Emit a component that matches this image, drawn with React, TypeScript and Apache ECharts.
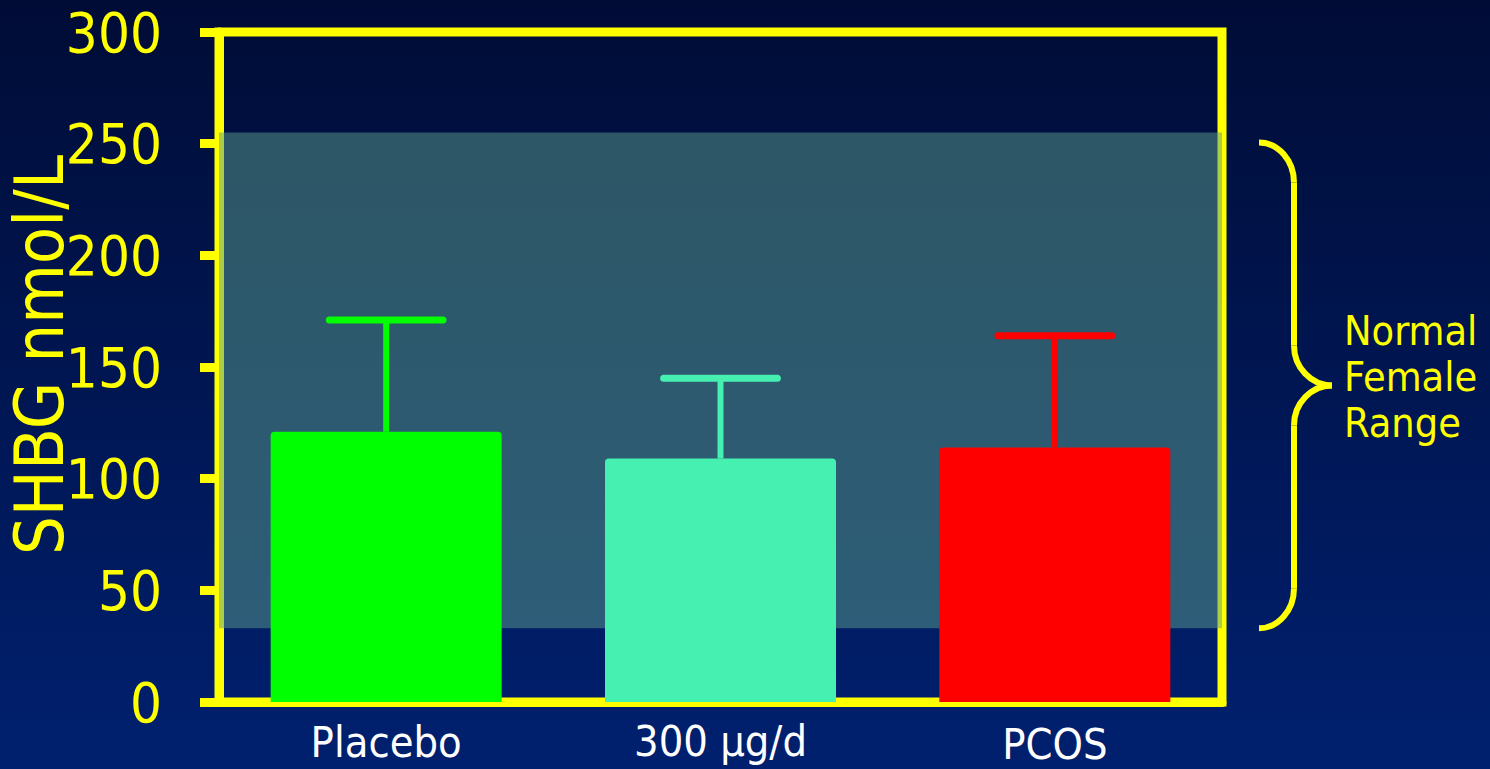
import React, { useEffect, useRef } from "react";
import * as echarts from "echarts";

// SHBG levels by group
const categories = ["Placebo", "300 µg/d", "PCOS"];
const means = [121, 109, 114];
const upperErrors = [171, 145, 164];
const barColors = ["#00ff00", "#45f0b0", "#ff0000"];

// normal female reference range, nmol/L
const normalRange = [33, 255];
const rangeLabel = "Normal\nFemale\nRange";

const yTicks = { min: 0, max: 300, interval: 50 };

const YELLOW = "#ffff00";
const FONT = "'Liberation Sans Narrow', 'DejaVu Sans Condensed', 'Liberation Sans', Arial, sans-serif";

export default function App() {
  const ref = useRef<HTMLDivElement>(null);

  useEffect(() => {
    if (!ref.current) return;
    const chart = echarts.init(ref.current, undefined, { renderer: "svg" });

    chart.setOption({
      animation: false,
      backgroundColor: {
        type: "linear",
        x: 0,
        y: 0,
        x2: 0,
        y2: 1,
        colorStops: [
          { offset: 0, color: "#000c36" },
          { offset: 1, color: "#00206f" },
        ],
      },
      grid: {
        left: 219,
        top: 32,
        width: 1003,
        height: 670,
        containLabel: false,
        outerBoundsMode: "none",
        show: true,
        borderColor: YELLOW,
        borderWidth: 9,
        backgroundColor: "transparent",
      },
      xAxis: {
        type: "category",
        data: categories,
        axisLine: { show: true, lineStyle: { color: YELLOW, width: 9 } },
        axisTick: { show: false },
        axisLabel: {
          interval: 0,
          hideOverlap: false,
          margin: 17,
          fontFamily: FONT,
          fontSize: 43,
          color: "#ffffff",
          formatter: (v: string, i: number) => `{c${i}|${v}}`,
          rich: {
            c0: { fontFamily: FONT, fontSize: 43, lineHeight: 43, color: "#ffffff", padding: [3, 0, 0, 0] },
            c1: { fontFamily: FONT, fontSize: 43, lineHeight: 43, color: "#ffffff", padding: [0, 0, 0, 0] },
            c2: { fontFamily: FONT, fontSize: 43, lineHeight: 43, color: "#ffffff", padding: [6, 0, 0, 0] },
          },
        },
      },
      yAxis: {
        type: "value",
        min: yTicks.min,
        max: yTicks.max,
        interval: yTicks.interval,
        name: "SHBG nmol/L",
        nameLocation: "middle",
        nameGap: 146,
        nameMoveOverlap: false,
        nameTextStyle: {
          color: YELLOW,
          fontFamily: FONT,
          fontSize: 68,
          padding: [0, 0, 0, 24],
        },
        axisLine: { show: true, lineStyle: { color: YELLOW, width: 9 } },
        axisTick: { show: true, length: 19, lineStyle: { color: YELLOW, width: 9 } },
        axisLabel: { margin: 57, color: YELLOW, fontFamily: FONT, fontSize: 56 },
        splitLine: { show: false },
      },
      series: [
        {
          type: "bar",
          barWidth: 231,
          data: means.map((v, i) => ({
            value: v,
            itemStyle: { color: barColors[i], borderRadius: [4, 4, 0, 0] },
          })),
          markArea: {
            silent: true,
            itemStyle: { color: "rgba(90,158,140,0.5)" },
            data: [[{ yAxis: normalRange[0] }, { yAxis: normalRange[1] }]],
          },
          z: 2,
        },
        {
          type: "custom",
          z: 3,
          data: categories.map((_, i) => [i, means[i], upperErrors[i]]),
          renderItem: (params: any, api: any) => {
            const idx = api.value(0);
            const base = api.coord([idx, api.value(1)]);
            const top = api.coord([idx, api.value(2)]);
            const half = api.size([1, 0])[0] * 0.17;
            const color = barColors[params.dataIndex];
            return {
              type: "group",
              children: [
                {
                  type: "line",
                  shape: { x1: base[0], y1: base[1], x2: top[0], y2: top[1] },
                  style: { stroke: color, lineWidth: 6 },
                },
                {
                  type: "line",
                  shape: { x1: top[0] - half, y1: top[1], x2: top[0] + half, y2: top[1] },
                  style: { stroke: color, lineWidth: 7, lineCap: "round" },
                },
              ],
            };
          },
        },
      ],
    });

    // curly brace beside the plot marking the normal range
    const gridRight = 219 + 1003;
    const yHigh = chart.convertToPixel({ yAxisIndex: 0 }, normalRange[1]) + 10;
    const yLow = chart.convertToPixel({ yAxisIndex: 0 }, normalRange[0]);
    const yMid = (yHigh + yLow) / 2;
    const xEnd = gridRight + 37;
    const xStem = gridRight + 72;
    const xTip = gridRight + 110;
    const r = 40;
    const k = 0.55;
    const braceStyle = { stroke: YELLOW, lineWidth: 6, fill: null };

    chart.setOption({
      graphic: [
        {
          type: "bezierCurve",
          shape: {
            x1: xEnd, y1: yHigh, x2: xStem, y2: yHigh + r,
            cpx1: xEnd + (xStem - xEnd) * k, cpy1: yHigh,
            cpx2: xStem, cpy2: yHigh + r * (1 - k),
          },
          style: braceStyle,
        },
        {
          type: "line",
          shape: { x1: xStem, y1: yHigh + r, x2: xStem, y2: yMid - r },
          style: braceStyle,
        },
        {
          type: "bezierCurve",
          shape: {
            x1: xStem, y1: yMid - r, x2: xTip, y2: yMid,
            cpx1: xStem, cpy1: yMid - r * (1 - k),
            cpx2: xTip - (xTip - xStem) * k, cpy2: yMid,
          },
          style: braceStyle,
        },
        {
          type: "bezierCurve",
          shape: {
            x1: xTip, y1: yMid, x2: xStem, y2: yMid + r,
            cpx1: xTip - (xTip - xStem) * k, cpy1: yMid,
            cpx2: xStem, cpy2: yMid + r * (1 - k),
          },
          style: braceStyle,
        },
        {
          type: "line",
          shape: { x1: xStem, y1: yMid + r, x2: xStem, y2: yLow - r },
          style: braceStyle,
        },
        {
          type: "bezierCurve",
          shape: {
            x1: xStem, y1: yLow - r, x2: xEnd, y2: yLow,
            cpx1: xStem, cpy1: yLow - r * (1 - k),
            cpx2: xEnd + (xStem - xEnd) * k, cpy2: yLow,
          },
          style: braceStyle,
        },
        {
          type: "text",
          x: gridRight + 122,
          y: yMid - 8,
          style: {
            text: rangeLabel,
            fill: YELLOW,
            font: `41px ${FONT}`,
            lineHeight: 46,
            textAlign: "left",
            textVerticalAlign: "middle",
          },
        },
      ],
    });

    return () => chart.dispose();
  }, []);

  return (
    <div
      ref={ref}
      style={{ position: "fixed", left: 0, top: 0, width: 1490, height: 769 }}
    />
  );
}
